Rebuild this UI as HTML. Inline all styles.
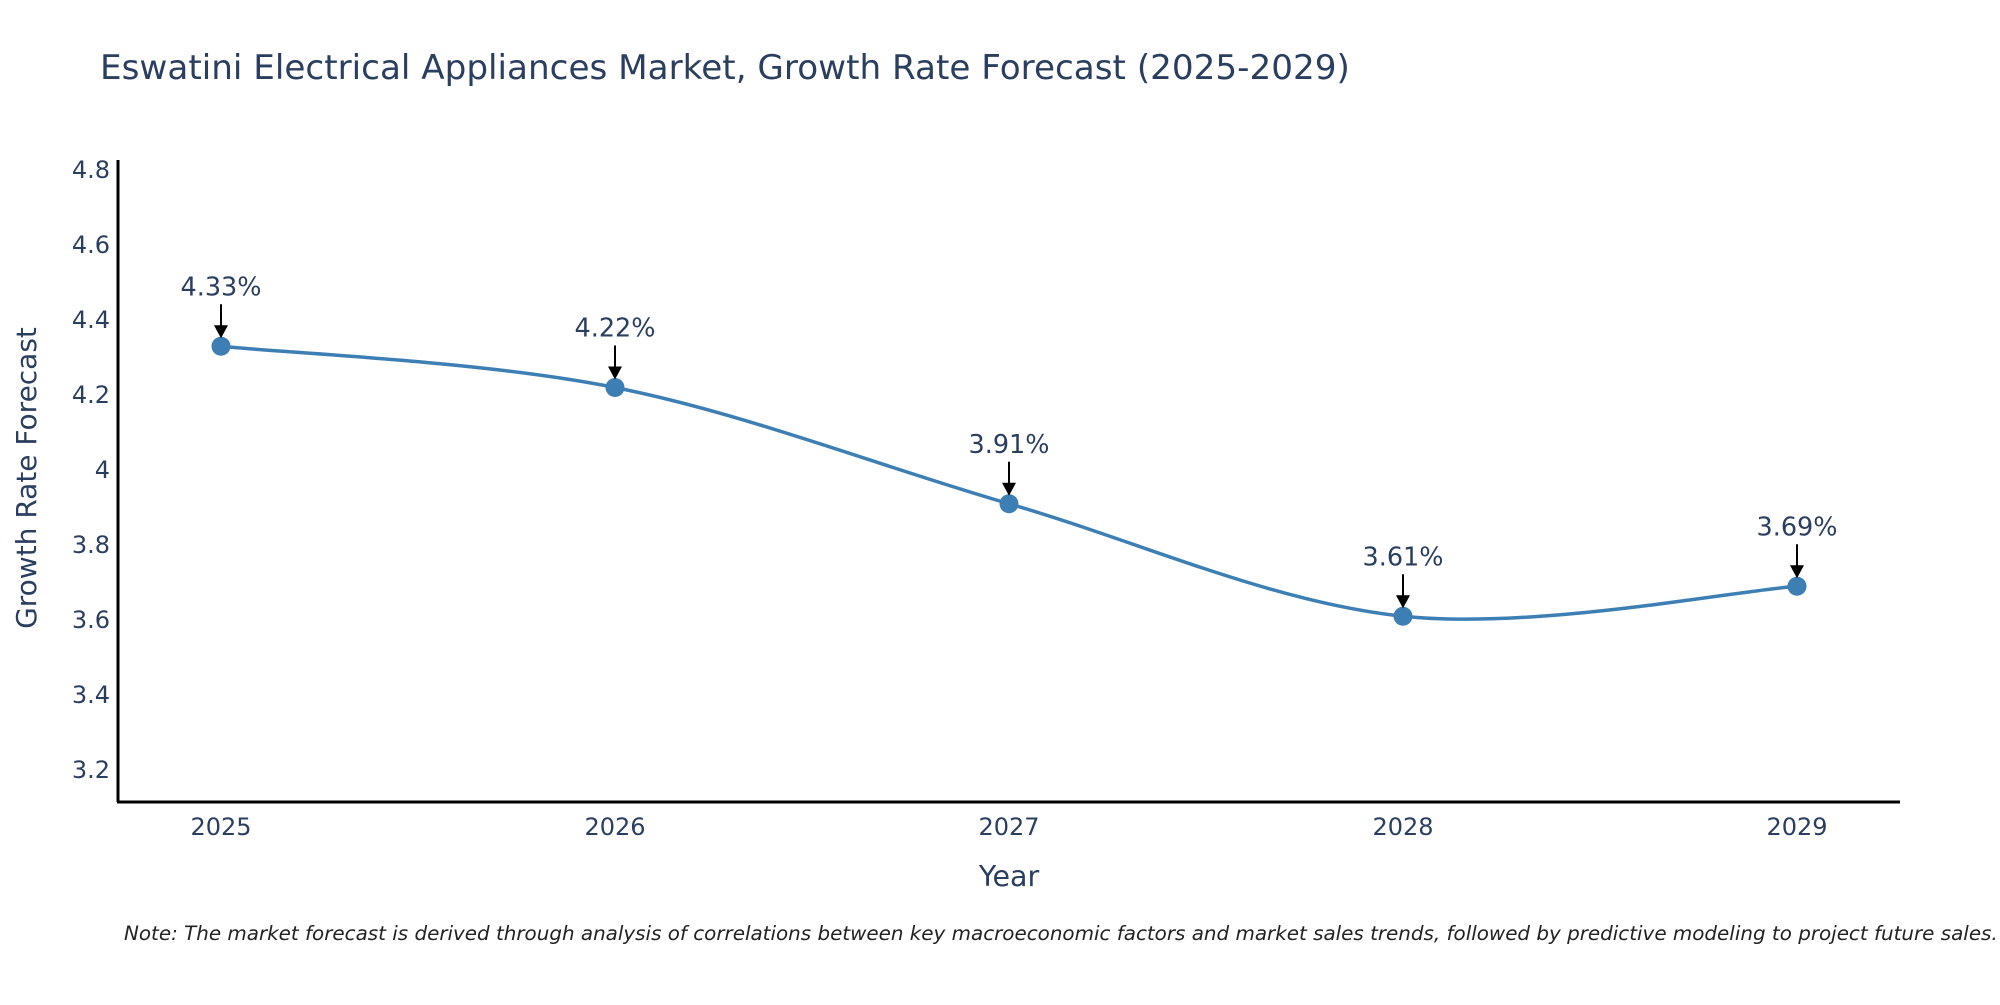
<!DOCTYPE html>
<html><head><meta charset="utf-8"><style>
body{margin:0;background:#fff;}
svg text{font-family:"DejaVu Sans","Liberation Sans",sans-serif;fill:#2a3f5f;}
</style></head><body>
<svg id="chart" width="2000" height="1000" xmlns="http://www.w3.org/2000/svg">
<rect width="2000" height="1000" fill="#fff"/>
<text x="100" y="79" font-size="34.2">Eswatini Electrical Appliances Market, Growth Rate Forecast (2025-2029)</text>
<g id="yticks"></g>
<g id="xticks"></g>
<line x1="118" y1="160" x2="118" y2="802" stroke="#000" stroke-width="3"/>
<line x1="117" y1="802" x2="1900" y2="802" stroke="#000" stroke-width="3"/>
<text transform="translate(36,478) rotate(-90)" text-anchor="middle" font-size="28">Growth Rate Forecast</text>
<text x="1009" y="886" text-anchor="middle" font-size="28.5">Year</text>
<g id="series"></g>
<g id="annots"></g>
<text x="124" y="940" font-size="19.9" font-style="italic" style="fill:#222">Note: The market forecast is derived through analysis of correlations between key macroeconomic factors and market sales trends, followed by predictive modeling to project future sales.</text>
</svg>
<script>
const years = [2025, 2026, 2027, 2028, 2029];
const values = [4.33, 4.22, 3.91, 3.61, 3.69];
const labels = ["4.33%", "4.22%", "3.91%", "3.61%", "3.69%"];
const yTickValues = [3.2, 3.4, 3.6, 3.8, 4, 4.2, 4.4, 4.6, 4.8];
const yTickLabels = ["3.2", "3.4", "3.6", "3.8", "4", "4.2", "4.4", "4.6", "4.8"];

const NS = "http://www.w3.org/2000/svg";
function xs(v){ return 221 + (v - 2025) * 394; }
function ys(v){ return 170 + (4.8 - v) * 375; }
function mk(tag, attrs, parent){ const e = document.createElementNS(NS, tag); for (const k in attrs) e.setAttribute(k, attrs[k]); parent.appendChild(e); return e; }

const yt = document.getElementById('yticks');
yTickValues.forEach((v, i) => {
  const t = mk('text', {x: 110, y: ys(v) + 8, 'text-anchor': 'end', 'font-size': 24}, yt);
  
  
  t.textContent = yTickLabels[i];
});
const xt = document.getElementById('xticks');
years.forEach(v => {
  const t = mk('text', {x: xs(v), y: 835, 'text-anchor': 'middle', 'font-size': 24}, xt);
  
  
  t.textContent = String(v);
});

const pts = years.map((y, i) => [xs(y), ys(values[i])]);
let d = `M${pts[0][0]},${pts[0][1]}`;
const s = 1/6;
for (let i = 0; i < pts.length - 1; i++) {
  const p0 = pts[Math.max(0, i-1)], p1 = pts[i], p2 = pts[i+1], p3 = pts[Math.min(pts.length-1, i+2)];
  const c1 = [p1[0] + (p2[0]-p0[0])*s, p1[1] + (p2[1]-p0[1])*s];
  const c2 = [p2[0] - (p3[0]-p1[0])*s, p2[1] - (p3[1]-p1[1])*s];
  d += ` C${c1[0]},${c1[1]} ${c2[0]},${c2[1]} ${p2[0]},${p2[1]}`;
}
const ser = document.getElementById('series');
const line = mk('path', {d: d, fill: 'none', stroke: '#3d7fb4', 'stroke-width': 3.5}, ser);


pts.forEach(p => {
  const c = mk('circle', {cx: p[0], cy: p[1], r: 9.5, fill: '#3d7fb4'}, ser);
  
  
});

const an = document.getElementById('annots');
pts.forEach((p, i) => {
  const l = mk('line', {x1: p[0], y1: p[1] - 42, x2: p[0], y2: p[1] - 20, stroke: '#000', 'stroke-width': 2}, an);
  
  
  const h = mk('polygon', {points: `${p[0]-7},${p[1]-21} ${p[0]+7},${p[1]-21} ${p[0]},${p[1]-8}`, fill: '#000'}, an);
  
  
  const t = mk('text', {x: p[0], y: p[1] - 51, 'text-anchor': 'middle', 'font-size': 25.5}, an);
  
  
  t.textContent = labels[i];
});
</script>
</body></html>
